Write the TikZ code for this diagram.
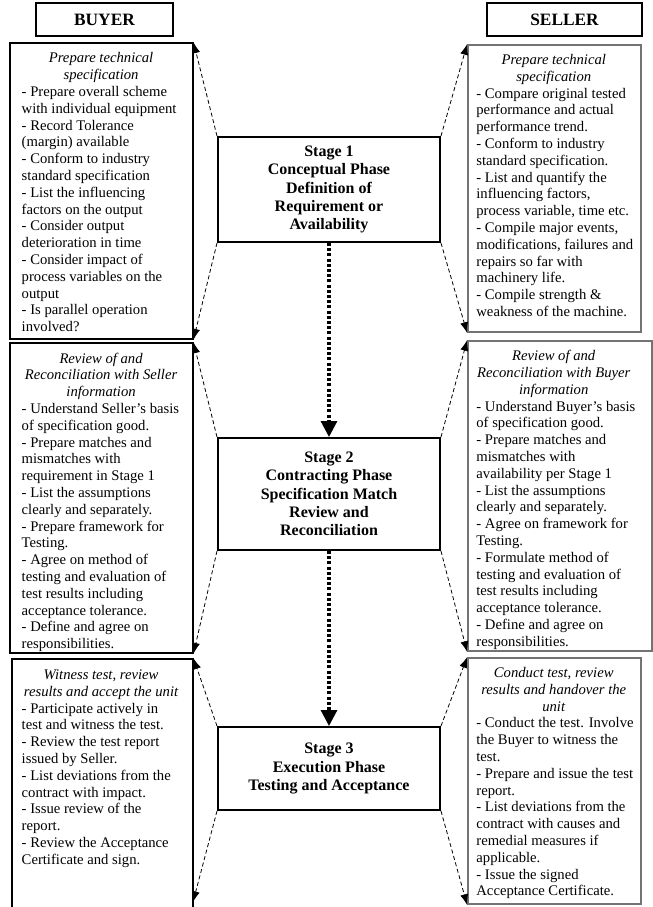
\documentclass[tikz,border=0pt]{standalone}
\usepackage{fontspec}
\setmainfont{Liberation Serif}
\usetikzlibrary{arrows.meta,fit}
\newcommand\hdL[1]{\makebox[119pt]{\itshape #1}}
\newcommand\hdR[1]{\makebox[116pt]{\itshape #1}}
\begin{document}
\begin{tikzpicture}[x=0.75pt,y=-0.75pt,
  hdrbox/.style={draw, line width=1.5pt, inner sep=0pt},
  hdrtext/.style={inner sep=0pt, font=\fontsize{13}{15}\selectfont\bfseries},
  stagebox/.style={draw, line width=1.5pt, inner sep=0pt},
  stagetext/.style={inner sep=0pt, align=center, font=\fontsize{12}{13.7}\selectfont\bfseries},
  lbox/.style={draw, line width=0.8pt, inner sep=0pt},
  rbox/.style={draw=black!55, line width=1.3pt, inner sep=0pt},
  body/.style={anchor=north west, inner sep=0pt, align=left, font=\fontsize{11}{12.6}\selectfont},
  dasharrow/.style={draw, line width=0.6pt, dash pattern=on 3pt off 2pt, -{Latex[length=8pt,width=6pt]}},
  dotarrow/.style={draw, line width=2.3pt, dash pattern=on 2.3pt off 1.6pt, -{Triangle[length=12pt,width=12pt]}}
]
\useasboundingbox (0,0) rectangle (653,907);

% headers
\node[hdrbox, fit={(36,3) (173,36)}] (buyer) {};
\node[hdrtext] (buyerT) at (buyer.center) {BUYER};
\node[hdrbox, fit={(487,3) (642,36)}] (seller) {};
\node[hdrtext] (sellerT) at (seller.center) {SELLER};

% stage boxes
\node[stagebox, fit={(218,137) (440,242)}] (s1) {};
\node[stagetext] (s1t) at (s1.center) {Stage 1\\Conceptual Phase\\Definition of\\Requirement or\\Availability};
\node[stagebox, fit={(218,438) (440,550)}] (s2) {};
\node[stagetext] (s2t) at (s2.center) {Stage 2\\Contracting Phase\\Specification Match\\Review and\\Reconciliation};
\node[stagebox, fit={(218,727) (440,810)}] (s3) {};
\node[stagetext] (s3t) at (s3.center) {Stage 3\\Execution Phase\\Testing and Acceptance};

% buyer boxes
\node[lbox, fit={(10,43) (193,339)}] (l1) {};
\node[lbox, fit={(10,343) (193,653)}] (l2) {};
\node[lbox, fit={(12,659) (193,920)}] (l3) {};
\coordinate (l3end) at (193,902);

% seller boxes
\node[rbox, fit={(468,45) (641,332)}] (r1) {};
\node[rbox, fit={(468,341) (652,651)}] (r2) {};
\node[rbox, fit={(468,658) (641,904)}] (r3) {};

% buyer texts
\node[body] (l1t) at ([shift={(12,10)}]l1.north west) {\hdL{Prepare technical}\\\hdL{specification}\\
- Prepare overall scheme\\with individual equipment\\- Record Tolerance\\(margin) available\\
- Conform to industry\\standard specification\\- List the influencing\\factors on the output\\
- Consider output\\deterioration in time\\- Consider impact of\\process variables on the\\output\\
- Is parallel operation\\involved?};

\node[body] (l2t) at ([shift={(12,10)}]l2.north west) {\hdL{Review of and}\\\hdL{Reconciliation with Seller}\\\hdL{information}\\
- Understand Seller’s basis\\of specification good.\\- Prepare matches and\\mismatches with\\requirement in Stage 1\\
- List the assumptions\\clearly and separately.\\- Prepare framework for\\Testing.\\
- Agree on method of\\testing and evaluation of\\test results including\\acceptance tolerance.\\
- Define and agree on\\responsibilities.};

\node[body] (l3t) at ([shift={(10,11)}]l3.north west) {\hdL{Witness test, review}\\\hdL{results and accept the unit}\\
- Participate actively in\\test and witness the test.\\- Review the test report\\issued by Seller.\\
- List deviations from the\\contract with impact.\\- Issue review of the\\report.\\
- Review the Acceptance\\Certificate and sign.};

% seller texts
\node[body] (r1t) at ([shift={(9,10)}]r1.north west) {\hdR{Prepare technical}\\\hdR{specification}\\
- Compare original tested\\performance and actual\\performance trend.\\
- Conform to industry\\standard specification.\\- List and quantify the\\influencing factors,\\process variable, time etc.\\
- Compile major events,\\modifications, failures and\\repairs so far with\\machinery life.\\
- Compile strength \&\\weakness of the machine.};

\node[body] (r2t) at ([shift={(9,10)}]r2.north west) {\hdR{Review of and}\\\hdR{Reconciliation with Buyer}\\\hdR{information}\\
- Understand Buyer’s basis\\of specification good.\\- Prepare matches and\\mismatches with\\availability per Stage 1\\
- List the assumptions\\clearly and separately.\\- Agree on framework for\\Testing.\\
- Formulate method of\\testing and evaluation of\\test results including\\acceptance tolerance.\\
- Define and agree on\\responsibilities.};

\node[body] (r3t) at ([shift={(9,10)}]r3.north west) {\hdR{Conduct test, review}\\\hdR{results and handover the}\\\hdR{unit}\\
- Conduct the test. Involve\\the Buyer to witness the\\test.\\- Prepare and issue the test\\report.\\
- List deviations from the\\contract with causes and\\remedial measures if\\applicable.\\
- Issue the signed\\Acceptance Certificate.};

% dashed connectors
\draw[dasharrow] (s1.north west) -- (l1.north east);
\draw[dasharrow] (s1.south west) -- (l1.south east);
\draw[dasharrow] (s1.north east) -- (r1.north west);
\draw[dasharrow] (s1.south east) -- (r1.south west);
\draw[dasharrow] (s2.north west) -- (l2.north east);
\draw[dasharrow] (s2.south west) -- (l2.south east);
\draw[dasharrow] (s2.north east) -- (r2.north west);
\draw[dasharrow] (s2.south east) -- (r2.south west);
\draw[dasharrow] (s3.north west) -- (l3.north east);
\draw[dasharrow] (s3.south west) -- (l3end);
\draw[dasharrow] (s3.north east) -- (r3.north west);
\draw[dasharrow] (s3.south east) -- (r3.south west);

% stage flow
\draw[dotarrow] (s1.south) -- (s2.north);
\draw[dotarrow] (s2.south) -- (s3.north);
\end{tikzpicture}
\end{document}
